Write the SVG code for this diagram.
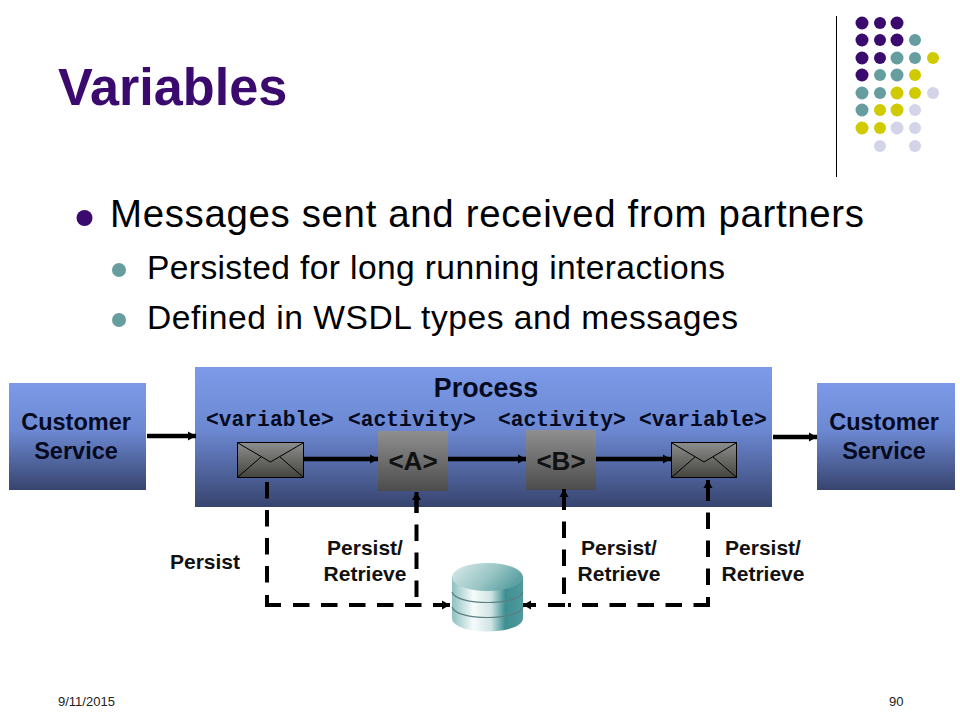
<svg xmlns="http://www.w3.org/2000/svg" width="960" height="720" viewBox="0 0 960 720">
<style>
text{font-family:"Liberation Sans",Arial,sans-serif;fill:#000}
.b{font-weight:bold;font-size:23.500px;text-anchor:middle;fill:#050a20}
.p{font-weight:bold;font-size:21px;text-anchor:middle;fill:#111}
.m{font-family:"Liberation Mono","Courier New",monospace;font-weight:bold;font-size:21.300px;fill:#050a20}
.ab{font-weight:bold;font-size:26px;text-anchor:middle;fill:#111}
.s{font-size:13px;fill:#222}
.pu{fill:#3b0a6e}.te{fill:#669e9f}.ye{fill:#cfcb00}.li{fill:#d3d4e8}
.blue{fill:url(#blueG)}
.gray{fill:url(#grayG)}
.env{fill:url(#envG);stroke:#000;stroke-width:1}
.fl{fill:none;stroke:#000;stroke-width:1}
.sol{fill:none;stroke:#000;stroke-width:4.500}
.das{fill:none;stroke:#000;stroke-width:4;stroke-dasharray:16.500 11.500}
.sd{fill:none;stroke:#000;stroke-width:4}
</style>
<defs>
<linearGradient id="blueG" x1="0" y1="0" x2="0" y2="1"><stop offset="0" stop-color="#7c9ae8"/><stop offset="0.45" stop-color="#6c88d2"/><stop offset="1" stop-color="#37446e"/></linearGradient>
<linearGradient id="grayG" x1="0" y1="0" x2="0" y2="1"><stop offset="0" stop-color="#8f8f8f"/><stop offset="1" stop-color="#4c4c4c"/></linearGradient>
<linearGradient id="envG" x1="0" y1="0" x2="0" y2="1"><stop offset="0" stop-color="#8e8e8e"/><stop offset="1" stop-color="#44443e"/></linearGradient>
<linearGradient id="cyl" x1="0" y1="0" x2="1" y2="0"><stop offset="0" stop-color="#8fc0c0"/><stop offset="0.3" stop-color="#f6fbfb"/><stop offset="0.55" stop-color="#cfe4e4"/><stop offset="0.75" stop-color="#3f8f92"/><stop offset="1" stop-color="#4f9a9c"/></linearGradient>
<linearGradient id="cylTop" x1="0" y1="0" x2="1" y2="0.4"><stop offset="0" stop-color="#dcebeb"/><stop offset="0.6" stop-color="#9ac6c6"/><stop offset="1" stop-color="#5fa2a3"/></linearGradient>
<marker id="ah" markerUnits="userSpaceOnUse" markerWidth="10" markerHeight="12" refX="8" refY="6" orient="auto"><path d="M0,1.500 L8,6 L0,10.500 Z" fill="#000"/></marker>
</defs>
<rect width="960" height="720" fill="#fff"/>
<g id="decor">
<line x1="836.500" y1="16" x2="836.500" y2="177" stroke="#000" stroke-width="1"/>
<g class="pu"><circle cx="862" cy="23" r="6.500"/><circle cx="880" cy="23" r="6"/><circle cx="897" cy="23" r="6.500"/><circle cx="862" cy="40" r="6.500"/><circle cx="880" cy="40" r="6"/><circle cx="897" cy="40" r="6.500"/><circle cx="862" cy="58" r="6.500"/><circle cx="880" cy="58" r="6"/><circle cx="862" cy="75" r="6.500"/></g>
<g class="te"><circle cx="915" cy="40" r="6"/><circle cx="897" cy="58" r="6.500"/><circle cx="915" cy="58" r="6"/><circle cx="880" cy="75" r="6"/><circle cx="897" cy="75" r="6.500"/><circle cx="862" cy="93" r="6.500"/><circle cx="880" cy="93" r="6"/><circle cx="862" cy="110" r="6.500"/></g>
<g class="ye"><circle cx="933" cy="58" r="6"/><circle cx="915" cy="75" r="6"/><circle cx="897" cy="93" r="6.500"/><circle cx="915" cy="93" r="6"/><circle cx="880" cy="110" r="6"/><circle cx="897" cy="110" r="6.500"/><circle cx="862" cy="128" r="6.500"/><circle cx="880" cy="128" r="6"/></g>
<g class="li"><circle cx="933" cy="93" r="6"/><circle cx="915" cy="110" r="6"/><circle cx="897" cy="128" r="6.500"/><circle cx="915" cy="128" r="6"/><circle cx="880" cy="146" r="6"/><circle cx="915" cy="146" r="6"/></g>
</g>
<g id="title"><text x="58" y="105" font-size="52.200" font-weight="bold" style="fill:#3b0a6e">Variables</text></g>
<g id="bullets">
<circle cx="84.500" cy="218" r="8" class="pu"/>
<text x="110" y="227" font-size="38.400" textLength="754" lengthAdjust="spacing">Messages sent and received from partners</text>
<circle cx="119" cy="270" r="7" class="te"/>
<text x="147" y="279" font-size="33.600" textLength="578" lengthAdjust="spacing">Persisted for long running interactions</text>
<circle cx="119" cy="320" r="7" class="te"/>
<text x="147" y="329" font-size="33.600" textLength="591" lengthAdjust="spacing">Defined in WSDL types and messages</text>
</g>
<g id="process">
<rect class="blue" x="195" y="367" width="577" height="140"/>
<text class="p" x="486" y="397" style="font-size:26.800px;fill:#050a20">Process</text>
<text class="m" x="206" y="426">&lt;variable&gt;</text>
<text class="m" x="348" y="426">&lt;activity&gt;</text>
<text class="m" x="498" y="426">&lt;activity&gt;</text>
<text class="m" x="639" y="426">&lt;variable&gt;</text>
</g>
<g id="customer-left">
<rect class="blue" x="9" y="383" width="137" height="107"/>
<text class="b" x="76" y="430">Customer</text>
<text class="b" x="76" y="459">Service</text>
</g>
<g id="customer-right">
<rect class="blue" x="817" y="383" width="138" height="107"/>
<text class="b" x="884" y="430">Customer</text>
<text class="b" x="884" y="459">Service</text>
</g>
<g id="env-left">
<rect class="env" x="237.500" y="442.500" width="66" height="35"/>
<path class="fl" d="M238,443 L270.500,462 L303,443 M238,477 L261,457 M303,477 L280,457"/>
</g>
<g id="env-right">
<rect class="env" x="671.500" y="442.500" width="65" height="35"/>
<path class="fl" d="M672,443 L704,462 L736,443 M672,477 L695,457 M736,477 L713,457"/>
</g>
<g id="node-a">
<rect class="gray" x="378" y="431" width="70" height="60"/>
<text class="ab" x="413" y="470">&lt;A&gt;</text>
</g>
<g id="node-b">
<rect class="gray" x="526" y="430" width="70" height="60"/>
<text class="ab" x="561" y="470">&lt;B&gt;</text>
</g>
<g id="database">
<path d="M452,577 V618 C452,636 523,636 523,618 V577 Z" fill="url(#cyl)"/>
<ellipse cx="487.500" cy="577" rx="35.500" ry="14" fill="url(#cylTop)"/>
<path d="M452,592 C456,606 519,606 523,592 M452,607 C456,621 519,621 523,607" fill="none" stroke="#5c7f80" stroke-width="1.200"/>
</g>
<g id="connectors">
<path class="sol" d="M147,436 H196" marker-end="url(#ah)"/>
<path class="sol" d="M773,437 H817" marker-end="url(#ah)"/>
<path class="sol" d="M304,459 H378" marker-end="url(#ah)"/>
<path class="sol" d="M448,459 H526" marker-end="url(#ah)"/>
<path class="sol" d="M596,459 H671" marker-end="url(#ah)"/>
<path class="das" d="M267,482 V590"/>
<path class="sd" d="M267,595 V605 H281"/>
<path class="das" d="M293,605 H440"/>
<path class="sd" d="M433,605 H450" marker-end="url(#ah)"/>
<path class="das" d="M416.500,597 V500"/>
<path class="sd" d="M416.500,513 V492" marker-end="url(#ah)"/>
<path class="das" d="M564,594 V515"/>
<path class="sd" d="M564,510 V489" marker-end="url(#ah)"/>
<path class="das" d="M708,585 V510"/>
<path class="sd" d="M708,606 V597 M708,501 V480" marker-end="url(#ah)"/>
<path class="das" d="M710,605 H582"/>
<path class="sd" d="M571,605 H568 M565,605 H548"/>
<path class="sd" d="M536,605 H523" marker-end="url(#ah)"/>
</g>
<g id="labels">
<text class="p" x="205" y="569">Persist</text>
<text class="p" x="365" y="555">Persist/</text>
<text class="p" x="365" y="581">Retrieve</text>
<text class="p" x="619" y="555">Persist/</text>
<text class="p" x="619" y="581">Retrieve</text>
<text class="p" x="763" y="555">Persist/</text>
<text class="p" x="763" y="581">Retrieve</text>
</g>
<g id="footer">
<text class="s" x="58" y="706">9/11/2015</text>
<text class="s" x="889" y="706">90</text>
</g>
</svg>
